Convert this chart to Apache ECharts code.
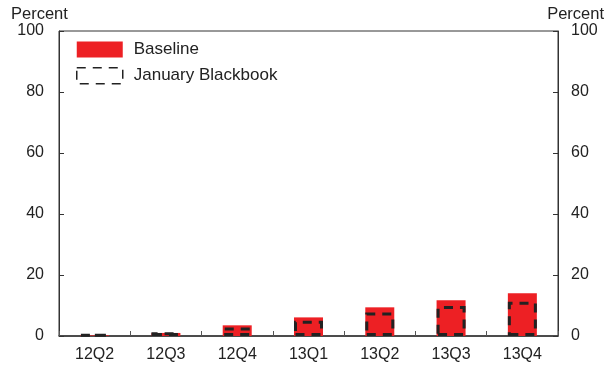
<!DOCTYPE html>
<html><head><meta charset="utf-8">
<script src="https://cdn.jsdelivr.net/npm/echarts@6/dist/echarts.min.js"></script>
<style>html,body{margin:0;padding:0;background:#fff}#c{width:610px;height:368px}</style>
</head><body><div id="c"></div>
<script>
var categories = ['12Q2','12Q3','12Q4','13Q1','13Q2','13Q3','13Q4'];
var baseline = [0.2, 1.0, 3.5, 6.1, 9.4, 11.7, 14.0];
var blackbook = [0.5, 1.2, 2.8, 5.0, 7.7, 9.8, 11.2];
var yTicks = [0, 20, 40, 60, 80, 100];

var font = 'Liberation Sans, Arial, sans-serif';
var fs = 16;
var tc = '#222';
var chart = echarts.init(document.getElementById('c'));
var yBase = {
  type: 'value', min: yTicks[0], max: yTicks[yTicks.length - 1], interval: yTicks[1] - yTicks[0],
  axisLine: {show: true, lineStyle: {color: '#333', width: 1}},
  axisTick: {show: true, inside: true, length: 5, lineStyle: {color: '#333'}},
  splitLine: {show: false}
};
chart.setOption({
  animation: false,
  title: [
    {text: 'Percent', left: 6, top: 1, textStyle: {fontFamily: font, fontSize: 16.5, color: tc, fontWeight: 'normal'}},
    {text: 'Percent', right: 1, top: 1, textStyle: {fontFamily: font, fontSize: 16.5, color: tc, fontWeight: 'normal'}}
  ],
  grid: {left: 59, right: 52, top: 31, bottom: 32, show: true, borderColor: '#333', borderWidth: 1},
  legend: {
    left: 71, top: 36, orient: 'vertical', itemWidth: 46, itemHeight: 16, itemGap: 9,
    textStyle: {fontFamily: font, fontSize: 17, color: tc, padding: [0,0,0,6]},
    data: [
      {name: 'Baseline', icon: 'rect', itemStyle: {color: '#ED2024', borderWidth: 0}},
      {name: 'January Blackbook', icon: 'rect', itemStyle: {color: 'rgba(0,0,0,0)', borderColor: '#222', borderWidth: 1.5, borderType: [9, 7]}}
    ]
  },
  xAxis: {
    type: 'category', data: categories,
    axisLine: {show: true, lineStyle: {color: '#333', width: 1.5}},
    axisTick: {show: true, inside: true, length: 5, lineStyle: {color: '#555'}},
    axisLabel: {fontFamily: font, fontSize: fs, color: tc, margin: 11}
  },
  yAxis: [
    Object.assign({}, yBase, {position: 'left', axisLabel: {fontFamily: font, fontSize: fs, color: tc, margin: 15}}),
    Object.assign({}, yBase, {position: 'right', axisLabel: {fontFamily: font, fontSize: fs, color: tc, margin: 13}})
  ],
  series: [
    {name: 'Baseline', type: 'bar', data: baseline, barWidth: 29, itemStyle: {color: '#ED2024'}, z: 2},
    {name: 'January Blackbook', type: 'bar', data: blackbook, barWidth: 29, barGap: '-100%',
     itemStyle: {color: 'rgba(0,0,0,0)', borderColor: '#222', borderWidth: 3, borderType: [9, 7]}, z: 3}
  ]
});
</script></body></html>
